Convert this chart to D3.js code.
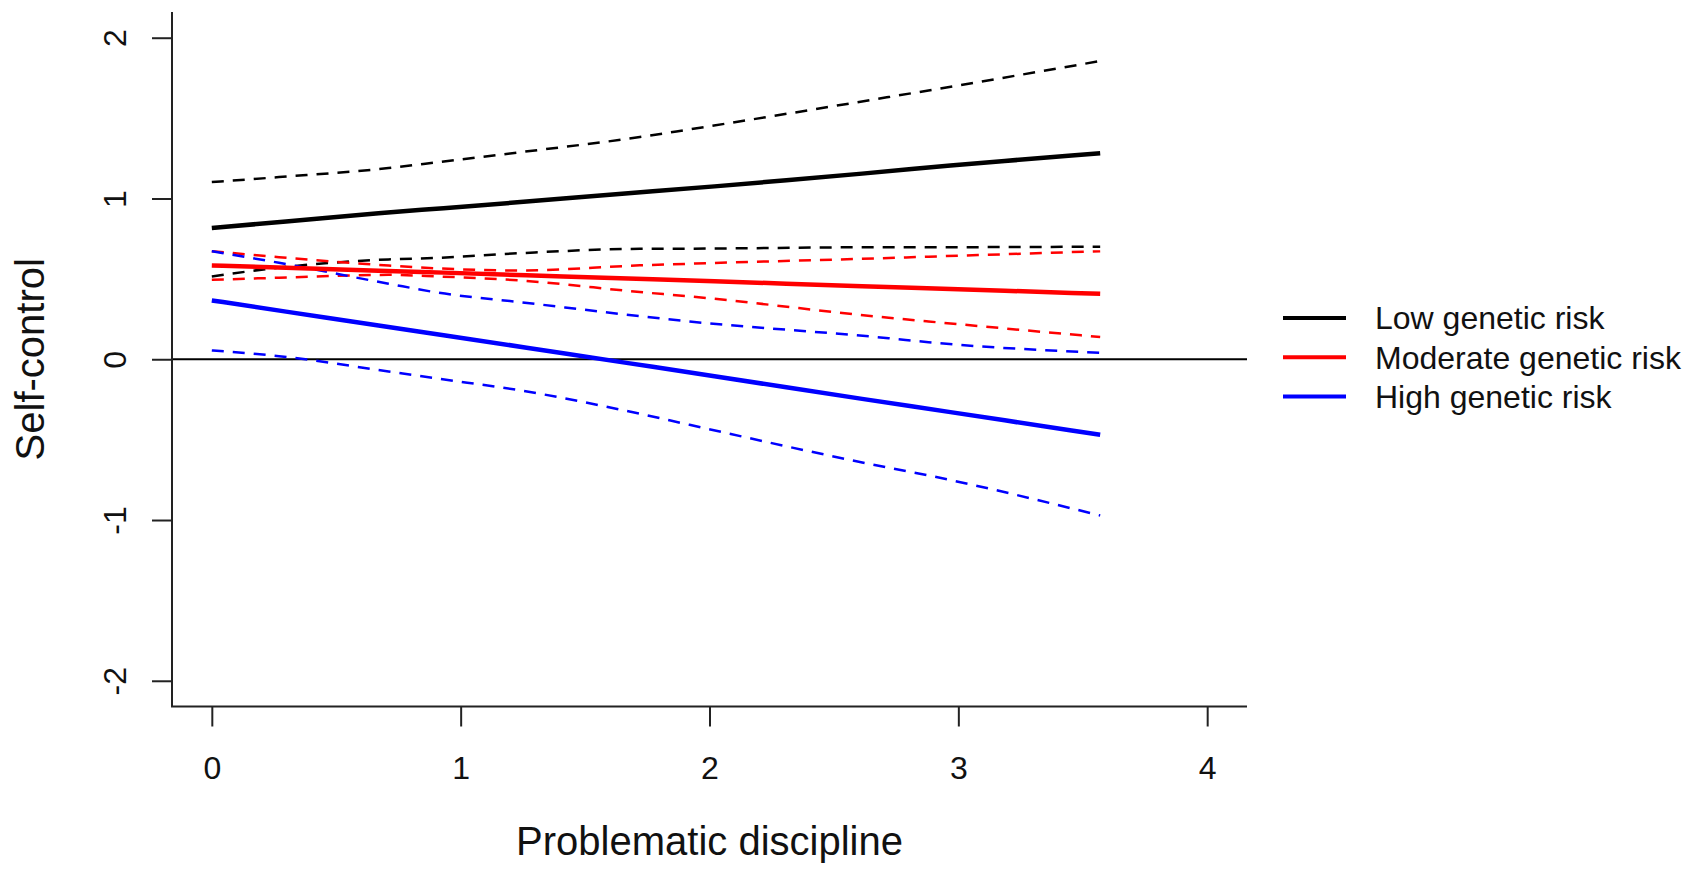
<!DOCTYPE html>
<html>
<head>
<meta charset="utf-8">
<script src="https://cdn.jsdelivr.net/npm/d3@7"></script>
<style>
  html, body { margin: 0; padding: 0; background: #fff; }
  svg { display: block; font-family: "Liberation Sans", Arial, sans-serif; }
</style>
</head>
<body>
<div id="chart"></div>
<script>
var xs = [0, 0.27, 0.71, 0.91, 1.24, 1.72, 1.92, 2.72, 2.88, 3.57];

// Low genetic risk
var lowMean  = [0.816, 0.853, 0.915, 0.936, 0.977, 1.040, 1.061, 1.168, 1.195, 1.282];
var lowUpper = [1.102, 1.133, 1.189, 1.226, 1.288, 1.382, 1.430, 1.631, 1.672, 1.855];
var lowLower = [0.515, 0.570, 0.621, 0.631, 0.660, 0.687, 0.688, 0.697, 0.697, 0.700];

// Moderate genetic risk
var modMean  = [0.583, 0.571, 0.549, 0.540, 0.524, 0.500, 0.490, 0.449, 0.442, 0.407];
var modUpper = [0.672, 0.635, 0.583, 0.565, 0.552, 0.584, 0.594, 0.630, 0.638, 0.672];
var modLower = [0.494, 0.507, 0.525, 0.515, 0.490, 0.418, 0.391, 0.258, 0.235, 0.138];

// High genetic risk
var highMean  = [0.366, 0.303, 0.200, 0.155, 0.078, -0.035, -0.082, -0.272, -0.308, -0.470];
var highUpper = [0.672, 0.600, 0.470, 0.414, 0.355, 0.268, 0.235, 0.131, 0.106, 0.040];
var highLower = [0.055, 0.019, -0.076, -0.121, -0.194, -0.339, -0.408, -0.675, -0.723, -0.972];

var groupNames = ["Low genetic risk", "Moderate genetic risk", "High genetic risk"];
var groupColors = ["#000000", "#ff0000", "#0000ff"];
var xTicks = [0, 1, 2, 3, 4];
var yTicks = [-2, -1, 0, 1, 2];

var W = 1700, H = 871;
var svg = d3.select("#chart").append("svg")
    .attr("width", W)
    .attr("height", H);

// R style: range padded by 4%
var x = d3.scaleLinear().domain([-0.16, 4.16]).range([172, 1247]);
var y = d3.scaleLinear().domain([-2.16, 2.16]).range([706.5, 12]);

var groups = [
    { name: groupNames[0], color: groupColors[0], mean: lowMean, upper: lowUpper, lower: lowLower },
    { name: groupNames[1], color: groupColors[1], mean: modMean, upper: modUpper, lower: modLower },
    { name: groupNames[2], color: groupColors[2], mean: highMean, upper: highUpper, lower: highLower }
];

var bandLine = d3.line()
    .x(function(d) { return x(d[0]); })
    .y(function(d) { return y(d[1]); })
    .curve(d3.curveMonotoneX);

// fitted lines are straight
var meanLine = d3.line()
    .x(function(d) { return x(d[0]); })
    .y(function(d) { return y(d[1]); })
    .curve(d3.curveBasis);

function pts(vals) {
    return xs.map(function(v, i) { return [v, vals[i]]; });
}

// plain "-" like R, not the unicode minus of d3.format
function rLabel(d) { return String(d); }

// reference line at 0
svg.append("line")
    .attr("x1", x.range()[0]).attr("x2", x.range()[1])
    .attr("y1", y(0)).attr("y2", y(0))
    .attr("stroke", "#000").attr("stroke-width", 2);

var plot = svg.append("g");

groups.forEach(function(g) {
    [g.upper, g.lower].forEach(function(band) {
        plot.append("path")
            .datum(pts(band))
            .attr("d", bandLine)
            .attr("fill", "none")
            .attr("stroke", g.color)
            .attr("stroke-width", 2.5)
            .attr("stroke-dasharray", "12,9");
    });
});

groups.forEach(function(g) {
    plot.append("path")
        .datum(pts(g.mean))
        .attr("d", meanLine)
        .attr("fill", "none")
        .attr("stroke", g.color)
        .attr("stroke-width", 4.5);
});

// axes
var axisColor = "#222";

var xAxis = svg.append("g")
    .attr("transform", "translate(0," + y.range()[0] + ")")
    .call(d3.axisBottom(x).tickValues(xTicks).tickSize(20).tickFormat(rLabel));
xAxis.select(".domain").remove();
xAxis.selectAll("line").attr("stroke", axisColor).attr("stroke-width", 2);
xAxis.selectAll("text")
    .attr("y", 72).attr("dy", null)
    .attr("fill", "#111")
    .style("font-size", "32px");

var yAxis = svg.append("g")
    .attr("transform", "translate(" + x.range()[0] + ",0)")
    .call(d3.axisLeft(y).tickValues(yTicks).tickSize(20).tickFormat(rLabel));
yAxis.select(".domain").remove();
yAxis.selectAll("line").attr("stroke", axisColor).attr("stroke-width", 2);
yAxis.selectAll("text")
    .attr("x", null).attr("dy", null)
    .attr("text-anchor", "middle")
    .attr("transform", "translate(-46,0) rotate(-90)")
    .attr("fill", "#111")
    .style("font-size", "32px");

// L-shaped box
svg.append("path")
    .attr("d", "M" + x.range()[0] + "," + y.range()[1] +
               "V" + y.range()[0] + "H" + x.range()[1])
    .attr("fill", "none")
    .attr("stroke", axisColor)
    .attr("stroke-width", 2);

// axis titles
svg.append("text")
    .attr("x", (x.range()[0] + x.range()[1]) / 2)
    .attr("y", 855)
    .attr("text-anchor", "middle")
    .style("font-size", "40px")
    .attr("fill", "#111")
    .text("Problematic discipline");

svg.append("text")
    .attr("transform", "translate(44," + (y.range()[0] + y.range()[1]) / 2 + ") rotate(-90)")
    .attr("text-anchor", "middle")
    .style("font-size", "40px")
    .attr("fill", "#111")
    .text("Self-control");

// legend
var legend = svg.append("g").attr("transform", "translate(1283,318)");
groups.forEach(function(g, i) {
    var row = legend.append("g").attr("transform", "translate(0," + i * 39.3 + ")");
    row.append("line")
        .attr("x1", 0).attr("x2", 63)
        .attr("stroke", g.color)
        .attr("stroke-width", 4);
    row.append("text")
        .attr("x", 92)
        .attr("dy", "0.35em")
        .style("font-size", "32px")
        .attr("fill", "#111")
        .text(g.name);
});
</script>
</body>
</html>
